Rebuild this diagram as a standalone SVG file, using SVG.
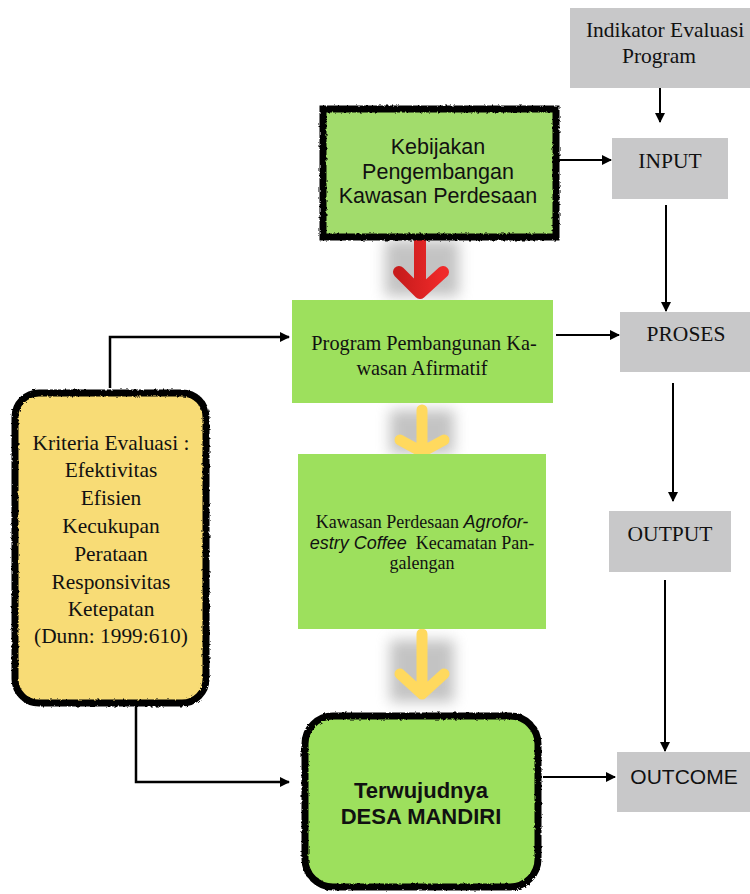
<svg xmlns="http://www.w3.org/2000/svg" width="750" height="894" viewBox="0 0 750 894">
<style>
.gray{fill:#c8c8c9}
.green{fill:#9de05d}
.times{font-family:"Liberation Serif","Times New Roman",serif;fill:#111}
.arial{font-family:"Liberation Sans",Arial,sans-serif;fill:#111}
.conn{stroke:#000;stroke-width:2;fill:none}
.sketch{stroke:#000;stroke-width:7;filter:url(#rough)}
.yarr{stroke:#ffd95e;stroke-width:11;stroke-linecap:round;stroke-linejoin:round;fill:none}
</style>
<defs>
<marker id="ah" markerWidth="10" markerHeight="10" refX="9" refY="5" orient="auto" markerUnits="userSpaceOnUse">
<path d="M0,0 L10,5 L0,10 z" fill="#000"/>
</marker>
<filter id="rough" x="-5%" y="-5%" width="110%" height="110%">
<feTurbulence type="fractalNoise" baseFrequency="0.35" numOctaves="2" seed="3"/>
<feDisplacementMap in="SourceGraphic" scale="3"/>
</filter>
<filter id="shadow" x="-50%" y="-50%" width="200%" height="200%">
<feGaussianBlur stdDeviation="7"/>
</filter>
<linearGradient id="red" x1="0" y1="0" x2="1" y2="0">
<stop offset="0" stop-color="#c81c1c"/>
<stop offset="1" stop-color="#f02a2a"/>
</linearGradient>
</defs>

<g id="connectors">
<line class="conn" x1="660" y1="88" x2="660" y2="122" marker-end="url(#ah)"/>
<line class="conn" x1="550" y1="160" x2="611" y2="160" marker-end="url(#ah)"/>
<line class="conn" x1="666" y1="205" x2="666" y2="311" marker-end="url(#ah)"/>
<line class="conn" x1="556" y1="335" x2="619" y2="335" marker-end="url(#ah)"/>
<line class="conn" x1="673" y1="383" x2="673" y2="501" marker-end="url(#ah)"/>
<line class="conn" x1="665" y1="580" x2="665" y2="751" marker-end="url(#ah)"/>
<line class="conn" x1="543" y1="777" x2="615" y2="777" marker-end="url(#ah)"/>
<polyline class="conn" points="110,388 110,337 289,337" style="stroke-width:2.5" marker-end="url(#ah)"/>
<polyline class="conn" points="136,705 136,782 289,782" style="stroke-width:2.5" marker-end="url(#ah)"/>
</g>

<g id="arrow-red">
<rect x="385" y="240" width="74" height="56" fill="#888" opacity="0.5" filter="url(#shadow)"/>
<path d="M420,236 L420,293 M399,272 L420,293 L443,272" stroke="url(#red)" stroke-width="12" stroke-linecap="round" stroke-linejoin="round" fill="none"/>
</g>
<g id="arrow-yellow-1">
<rect x="390" y="410" width="64" height="44" fill="#888" opacity="0.5" filter="url(#shadow)"/>
<path d="M422,410 L422,452 M400,440 L422,452 L444,440" class="yarr"/>
</g>
<g id="arrow-yellow-2">
<rect x="390" y="640" width="64" height="62" fill="#888" opacity="0.5" filter="url(#shadow)"/>
<path d="M422,634 L422,694 M400,674 L422,694 L444,674" class="yarr"/>
</g>

<g id="indikator">
<rect class="gray" x="570" y="8" width="180" height="80"/>
<text class="times" font-size="21.5" text-anchor="middle"><tspan x="665" y="37">Indikator Evaluasi</tspan><tspan x="659" y="63">Program</tspan></text>
</g>
<g id="input">
<rect class="gray" x="612" y="138" width="116" height="61"/>
<text class="times" font-size="21.5" text-anchor="middle" x="670" y="168">INPUT</text>
</g>
<g id="proses">
<rect class="gray" x="620" y="312" width="130" height="60"/>
<text class="times" font-size="21.5" text-anchor="middle" x="686" y="341">PROSES</text>
</g>
<g id="output">
<rect class="gray" x="609" y="511" width="122" height="61"/>
<text class="times" font-size="21.5" text-anchor="middle" x="670" y="541">OUTPUT</text>
</g>
<g id="outcome">
<rect class="gray" x="617" y="752" width="133" height="60"/>
<text class="arial" font-size="21" text-anchor="middle" x="684" y="784">OUTCOME</text>
</g>

<g id="kebijakan">
<rect class="sketch" x="323" y="109" width="233" height="128" fill="#a2dc6c"/>
<text class="arial" font-size="21.5" text-anchor="middle" fill="#222"><tspan x="438" y="154">Kebijakan</tspan><tspan x="438" y="179">Pengembangan</tspan><tspan x="438" y="203">Kawasan Perdesaan</tspan></text>
</g>
<g id="program">
<rect class="green" x="292" y="300" width="261" height="103"/>
<text class="times" font-size="20.3" text-anchor="middle"><tspan x="424" y="350">Program Pembangunan Ka-</tspan><tspan x="422" y="375">wasan Afirmatif</tspan></text>
</g>
<g id="kawasan">
<rect class="green" x="298" y="454" width="248" height="175"/>
<text class="times" font-size="18" text-anchor="middle"><tspan x="422" y="528">Kawasan Perdesaan <tspan class="arial" font-style="italic">Agrofor-</tspan></tspan><tspan x="422" y="549"><tspan class="arial" font-style="italic">estry Coffee</tspan>&#160; Kecamatan Pan-</tspan><tspan x="422" y="569">galengan</tspan></text>
</g>
<g id="kriteria">
<rect class="sketch" x="15" y="393" width="191" height="310" rx="24" fill="#f8dc76"/>
<text class="times" font-size="21.4" text-anchor="middle"><tspan x="111" y="450">Kriteria Evaluasi :</tspan><tspan x="111" y="477">Efektivitas</tspan><tspan x="111" y="505">Efisien</tspan><tspan x="111" y="533">Kecukupan</tspan><tspan x="111" y="561">Perataan</tspan><tspan x="111" y="589">Responsivitas</tspan><tspan x="111" y="616">Ketepatan</tspan><tspan x="111" y="643">(Dunn: 1999:610)</tspan></text>
</g>
<g id="terwujud">
<rect class="sketch" x="305" y="716" width="233" height="171" rx="28" fill="#9de05d"/>
<text class="arial" font-size="22" font-weight="bold" text-anchor="middle"><tspan x="421" y="798">Terwujudnya</tspan><tspan x="421" y="824">DESA MANDIRI</tspan></text>
</g>
</svg>
